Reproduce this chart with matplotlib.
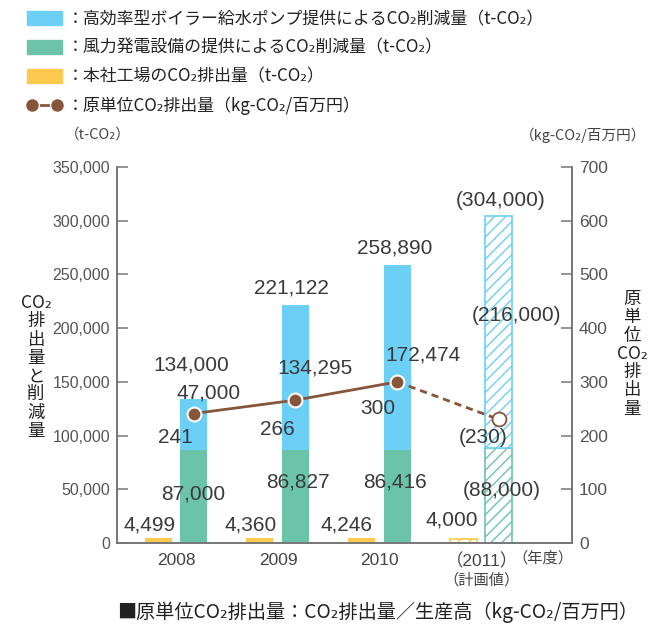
import numpy as np
import matplotlib.pyplot as plt
from matplotlib.patches import Patch
from matplotlib.lines import Line2D

# fiscal years; the last one is the plan
years = ['2008', '2009', '2010', '（2011）']
wind = [87000, 86827, 86416, 88000]          # 風力発電設備の提供による削減量
boiler = [47000, 134295, 172474, 216000]     # 高効率型ボイラー給水ポンプ提供による削減量
plant = [4499, 4360, 4246, 4000]             # 本社工場のCO2排出量
intensity = [241, 266, 300, 230]             # 原単位CO2排出量
planned = [False, False, False, True]

total = [w + b for w, b in zip(wind, boiler)]

# label placement (x offset from category, y in data units)
tot_lab = [(0.15, 165700), (0.135, 237400), (0.15, 274600), (0.19, 318400)]
boi_lab = [(0.32, 139600), (0.36, 162900), (0.42, 175000), (0.34, 212200)]
win_lab = [(0.16, 45600), (0.195, 56800), (0.15, 56800), (0.20, 49300)]
pla_lab = [(-0.26, 16750), (-0.27, 16750), (-0.33, 16750), (-0.29, 21400)]
int_lab = [(-0.015, 195.5), (-0.01, 210.4), (-0.02, 251.3), (0.02, 195.5)]

BLUE = '#6ccff6'
GREEN = '#6cc4a8'
ORANGE = '#fdc94e'
BROWN = '#87553a'
TXT = '#3a3a3a'
GRAY = '#777777'

JP = ['Noto Sans CJK JP', 'DejaVu Sans']
NUM = ['Liberation Sans', 'Noto Sans CJK JP', 'DejaVu Sans']
plt.rcParams['font.family'] = JP
plt.rcParams['hatch.linewidth'] = 1.0

W, H = 649, 628
fig = plt.figure(figsize=(W / 100, H / 100), dpi=100)
ax = fig.add_axes([117 / W, 1 - 543 / H, (572 - 117) / W, (543 - 167) / H])
ax2 = ax.twinx()

x = np.arange(len(years))
bw = 0.265
xo, xg = x - 0.18, x + 0.17

for i in range(len(years)):
    if planned[i]:
        kw = dict(facecolor='white', hatch='///', linewidth=1.2)
        ax.bar(xo[i], plant[i], bw, edgecolor=ORANGE, **kw)
        ax.bar(xg[i], wind[i], bw, edgecolor=GREEN, **kw)
        ax.bar(xg[i], boiler[i], bw, bottom=wind[i], edgecolor=BLUE, **kw)
    else:
        ax.bar(xo[i], plant[i], bw, color=ORANGE, linewidth=0)
        ax.bar(xg[i], wind[i], bw, color=GREEN, linewidth=0)
        ax.bar(xg[i], boiler[i], bw, bottom=wind[i], color=BLUE, linewidth=0)

def fmt(v, p):
    return f'({v:,})' if p else f'{v:,}'

lab = dict(fontsize=15, color=TXT, ha='center', va='center', family=NUM)
for i in range(len(years)):
    p = planned[i]
    ax.text(x[i] + tot_lab[i][0], tot_lab[i][1], fmt(total[i], p), **lab)
    ax.text(x[i] + boi_lab[i][0], boi_lab[i][1], fmt(boiler[i], p), **lab)
    ax.text(x[i] + win_lab[i][0], win_lab[i][1], fmt(wind[i], p), **lab)
    ax.text(x[i] + pla_lab[i][0], pla_lab[i][1], f'{plant[i]:,}', **lab)
    ax2.text(x[i] + int_lab[i][0], int_lab[i][1], fmt(intensity[i], p), **lab)

# intensity line: solid for actuals, dashed to the plan
ax2.plot(xg[:3], intensity[:3], '-', color=BROWN, lw=2)
ax2.plot(xg[2:], intensity[2:], '--', color=BROWN, lw=2, dashes=(2.6, 1.8))
ax2.plot(xg[:3], intensity[:3], 'o', ms=10, mfc=BROWN, mec='white', mew=1.5)
ax2.plot(xg[3:], intensity[3:], 'o', ms=10, mfc='white', mec=BROWN, mew=1.3)

ax.set_xlim(-0.585, 3.889)
ax.set_ylim(0, 350000)
ax2.set_ylim(0, 700)
ax.set_yticks(np.arange(0, 350001, 50000))
ax.set_yticklabels([f'{v:,}' for v in range(0, 350001, 50000)])
ax2.set_yticks(np.arange(0, 701, 100))
ax.set_xticks(x)
ax.set_xticklabels(years)

for a in (ax, ax2):
    a.spines['top'].set_visible(False)
    for s in ('left', 'right', 'bottom'):
        a.spines[s].set_color(GRAY)
        a.spines[s].set_linewidth(1.2)
ax.tick_params(axis='y', direction='in', length=8, width=1.1, color=GRAY,
               labelsize=11.5, labelcolor='#555555', pad=5)
ax2.tick_params(axis='y', direction='in', length=8, width=1.1, color=GRAY,
                labelsize=12.5, labelcolor='#555555', pad=5)
ax.tick_params(axis='x', length=0, labelsize=12.5, labelcolor='#444444', pad=7)
for t in ax.get_yticklabels() + ax2.get_yticklabels() + ax.get_xticklabels():
    t.set_family(NUM)

def ftext(px, py, s, **kw):
    fig.text(px / W, 1 - py / H, s, **kw)

small = dict(fontsize=10.5, color='#444444', ha='center', va='center')
ftext(98, 135, '（t-CO₂）', **small)
ftext(583, 135, '（kg-CO₂/百万円）', **small)
ftext(481, 580, '（計画値）', fontsize=11, color='#444444', ha='center', va='center')
ftext(543, 558, '（年度）', fontsize=11, color='#444444', ha='center', va='center')

vert = dict(fontsize=12.5, color='#222222', ha='center', va='top', linespacing=1.02)
ftext(36, 294, '\n'.join(['CO₂', '排', '出', '量', 'と', '削', '減', '量']), **vert)
ftext(632, 290, '\n'.join(['原', '単', '位', 'CO₂', '排', '出', '量']), **vert)

ftext(378, 612, '■原単位CO₂排出量：CO₂排出量／生産高（kg-CO₂/百万円）',
      fontsize=13.8, color='#222222', ha='center', va='center')

handles = [Patch(color=BLUE), Patch(color=GREEN), Patch(color=ORANGE),
           Line2D([], [], color=BROWN, lw=2, marker='o', ms=10, mfc=BROWN, mec='white')]
labels = ['：高効率型ボイラー給水ポンプ提供によるCO₂削減量（t-CO₂）',
          '：風力発電設備の提供によるCO₂削減量（t-CO₂）',
          '：本社工場のCO₂排出量（t-CO₂）',
          '：原単位CO₂排出量（kg-CO₂/百万円）']
fig.legend(handles, labels, loc='upper left', bbox_to_anchor=(27 / W, 1 - 10 / H),
           frameon=False, fontsize=12.2, handlelength=2.05, handleheight=0.85,
           handletextpad=0.3, labelspacing=0.64, borderpad=0, borderaxespad=0,
           numpoints=2, labelcolor='#222222')

fig.savefig('out.png', dpi=100)
